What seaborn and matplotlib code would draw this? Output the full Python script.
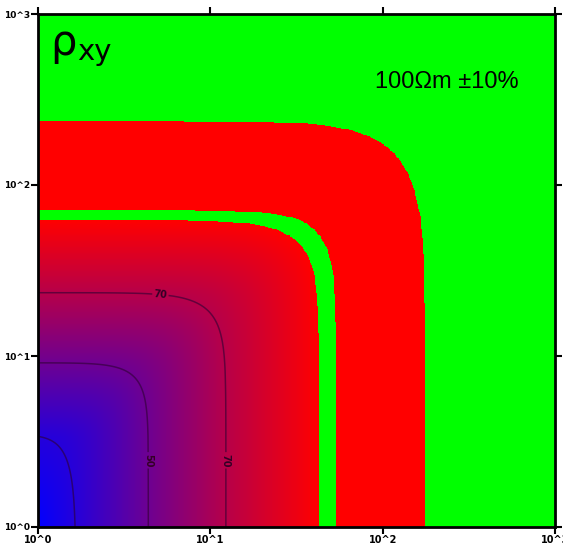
import numpy as np
import matplotlib
matplotlib.use("Agg")
import matplotlib.pyplot as plt
from matplotlib.colors import LinearSegmentedColormap
import seaborn as sns

# Apparent resistivity rho_xy (Ohm m) along the two edges of the section.
# Positions are decades above 10^0 on each axis.
x_decades = [0.0, 0.215, 0.64, 1.09, 1.63, 1.73, 1.98, 2.24, 3.0]
y_decades = [0.0, 0.53, 0.96, 1.37, 1.795, 1.854, 2.10, 2.37, 3.0]
rho_values = [20, 30, 50, 70, 90, 110, 125, 110, 102]

contour_levels = [30, 50, 70]
tick_labels = ["10^0", "10^1", "10^2", "10^3"]
title_main = "ρ"
title_sub = "xy"
band_label = "100Ωm ±10%"

target = 100.0
tolerance = 0.10
rho_min = 20.0
rho_max = 130.0

# Field on a regular grid in log space (rows run from top to bottom)
N = 600
lx = (np.arange(N) + 0.5) / N * 3.0
ly = 3.0 - (np.arange(N) + 0.5) / N * 3.0
LX, LY = np.meshgrid(lx, ly)
ly_eq = np.interp(LY, y_decades, x_decades)
p, c = 11.0, 0.7
t = ((LX + c) ** p + (ly_eq + c) ** p - c ** p) ** (1.0 / p) - c
rho = np.interp(t, x_decades, rho_values)

# Colour scale: blue -> red below the band, green inside +-10 %, red above
lo = target * (1 - tolerance)
hi = target * (1 + tolerance)
span = rho_max - rho_min
f_lo = (lo - rho_min) / span
f_hi = (hi - rho_min) / span
cmap = LinearSegmentedColormap.from_list(
    "band",
    [(0.0, (0, 0, 1)), (f_lo, (1, 0, 0)), (f_lo + 1e-6, (0, 1, 0)),
     (f_hi, (0, 1, 0)), (f_hi + 1e-6, (1, 0, 0)), (1.0, (1, 0, 0))],
    N=2048,
)

sns.set_theme(style="ticks")
plt.rcParams["font.family"] = ["DejaVu Sans"]

fig = plt.figure(figsize=(5.63, 5.47), dpi=100)
ax = fig.add_axes([38 / 563, 1 - 527 / 547, 517 / 563, 513 / 547])

sns.heatmap(rho, ax=ax, cmap=cmap, vmin=rho_min, vmax=rho_max, cbar=False,
            xticklabels=False, yticklabels=False, rasterized=True)

xc = np.arange(N) + 0.5
cs = ax.contour(xc, xc, rho, levels=contour_levels, colors=[(0.18, 0, 0.2)],
                linewidths=1.1, alpha=0.6)


def to_idx(dx, dy):
    return dx / 3.0 * N, (3.0 - dy) / 3.0 * N


labels = ax.clabel(cs, levels=contour_levels, fmt="%d", fontsize=7,
                   inline=True, inline_spacing=2,
                   manual=[to_idx(0.638, 0.39), to_idx(1.10, 0.39),
                           to_idx(0.71, 1.357)])
for lab in labels:
    lab.set_color((0.2, 0, 0.15))
    lab.set_fontweight("bold")

# Axes, ticks and labels
for s in ax.spines.values():
    s.set_visible(True)
    s.set_color("black")
    s.set_linewidth(2)

ax.set_xticks(np.linspace(0, N, 4))
ax.set_xticklabels(tick_labels, fontsize=7, fontweight="bold")
ax.set_yticks(np.linspace(N, 0, 4))
ax.set_yticklabels(tick_labels, fontsize=6.5, fontweight="bold", rotation=0)
ax.tick_params(which="both", direction="out", length=5, width=1.5,
               top=True, right=True, labeltop=False, labelright=False,
               pad=0.5, colors="black")
ax.set_xlim(0, N)
ax.set_ylim(N, 0)

fig.text(50 / 563, 1 - 55 / 547, title_main, fontsize=30, ha="left",
         va="baseline", color="black")
fig.text(77 / 563, 1 - 60 / 547, title_sub, fontsize=21, ha="left",
         va="baseline", color="black")
fig.text(375 / 563, 1 - 88 / 547, band_label, fontsize=17, ha="left",
         va="baseline", color="black", family=["Liberation Sans", "DejaVu Sans"])

fig.savefig("out.png", dpi=100)
